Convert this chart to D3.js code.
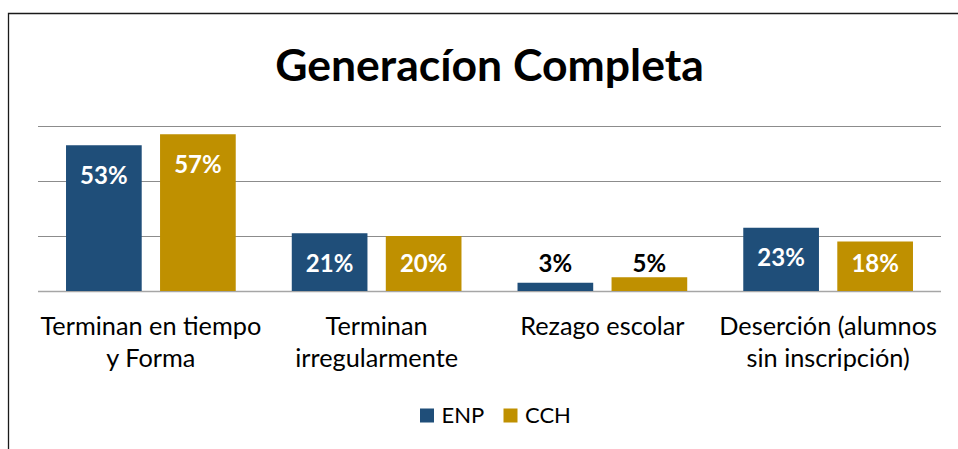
<!DOCTYPE html>
<html>
<head>
<meta charset="utf-8">
<script src="https://cdn.jsdelivr.net/npm/d3@7"></script>
<style>
  html, body { margin: 0; padding: 0; background: #fff; }
  svg { display: block; }
  text { font-family: Lato, "Open Sans", sans-serif; }
</style>
</head>
<body>
<svg id="chart" width="958" height="449"></svg>
<script>
const title = "Generacíon Completa";
const categories = [
  ["Terminan en tiempo", "y Forma"],
  ["Terminan", "irregularmente"],
  ["Rezago escolar"],
  ["Deserción (alumnos", "sin inscripción)"]
];
const seriesNames = ["ENP", "CCH"];
const enpValues = [0.53, 0.21, 0.03, 0.23];
const cchValues = [0.57, 0.20, 0.05, 0.18];
const yTicks = [0, 0.2, 0.4, 0.6];
const colors = ["#1F4E79", "#BF9000"];

const svg = d3.select("#chart");
const W = 958, H = 449;

// frame
svg.append("path")
  .attr("d", `M8.5,${H} L8.5,13.5 L${W},13.5`)
  .attr("fill", "none")
  .attr("stroke", "#1a1a1a")
  .attr("stroke-width", 1.3);

const plot = { left: 38, right: 941, top: 126, bottom: 291 };

const x = d3.scaleBand()
  .domain(d3.range(categories.length))
  .range([plot.left, plot.right])
  .paddingInner(0).paddingOuter(0);

const xs = d3.scaleBand()
  .domain(seriesNames)
  .range([0, x.bandwidth()])
  .paddingInner(0.195).paddingOuter(0.298);

const y = d3.scaleLinear().domain([0, 0.6]).range([plot.bottom, plot.top]);

// gridlines
svg.append("g").selectAll("line")
  .data(yTicks)
  .join("line")
  .attr("x1", plot.left).attr("x2", plot.right)
  .attr("y1", d => Math.round(y(d)) + 0.5)
  .attr("y2", d => Math.round(y(d)) + 0.5)
  .attr("stroke", d => d === 0 ? "#a6a6a6" : "#8c8c8c")
  .attr("stroke-width", d => d === 0 ? 1.5 : 1.2);

const data = [];
categories.forEach((c, i) => {
  data.push({ cat: i, s: "ENP", v: enpValues[i], color: colors[0] });
  data.push({ cat: i, s: "CCH", v: cchValues[i], color: colors[1] });
});

const bars = svg.append("g");
bars.selectAll("rect")
  .data(data)
  .join("rect")
  .attr("x", d => x(d.cat) + xs(d.s))
  .attr("y", d => y(d.v))
  .attr("width", xs.bandwidth())
  .attr("height", d => y(0) - y(d.v))
  .attr("fill", d => d.color);

// value labels
bars.selectAll("text")
  .data(data)
  .join("text")
  .attr("x", d => x(d.cat) + xs(d.s) + xs.bandwidth() / 2)
  .attr("y", d => Math.min(y(d.v) + 38.5, y(0) - 19))
  .attr("text-anchor", "middle")
  .attr("font-size", 24)
  .attr("font-weight", "bold")
  .attr("fill", d => d.v >= 0.1 ? "#ffffff" : "#000000")
  .text(d => Math.round(d.v * 100) + "%");

// category labels
const cl = svg.append("g");
categories.forEach((lines, i) => {
  const t = cl.append("text")
    .attr("text-anchor", "middle")
    .attr("font-size", 25.3)
    .attr("fill", "#000");
  lines.forEach((ln, j) => {
    t.append("tspan")
      .attr("x", x(i) + x.bandwidth() / 2)
      .attr("y", 334.5 + j * 32.4)
      .text(ln);
  });
});

// title
svg.append("text")
  .attr("x", (plot.left + plot.right) / 2)
  .attr("y", 80.5)
  .attr("text-anchor", "middle")
  .attr("font-size", 44.5)
  .attr("font-weight", "bold")
  .attr("fill", "#000")
  .text(title);

// legend
const legend = svg.append("g");
const legX = [420, 503.5];
seriesNames.forEach((s, i) => {
  legend.append("rect")
    .attr("x", legX[i]).attr("y", 408.5)
    .attr("width", 14).attr("height", 14)
    .attr("fill", colors[i]);
  legend.append("text")
    .attr("x", legX[i] + 21.5).attr("y", 422.7)
    .attr("font-size", 22)
    .attr("fill", "#000")
    .text(s);
});
</script>
</body>
</html>
